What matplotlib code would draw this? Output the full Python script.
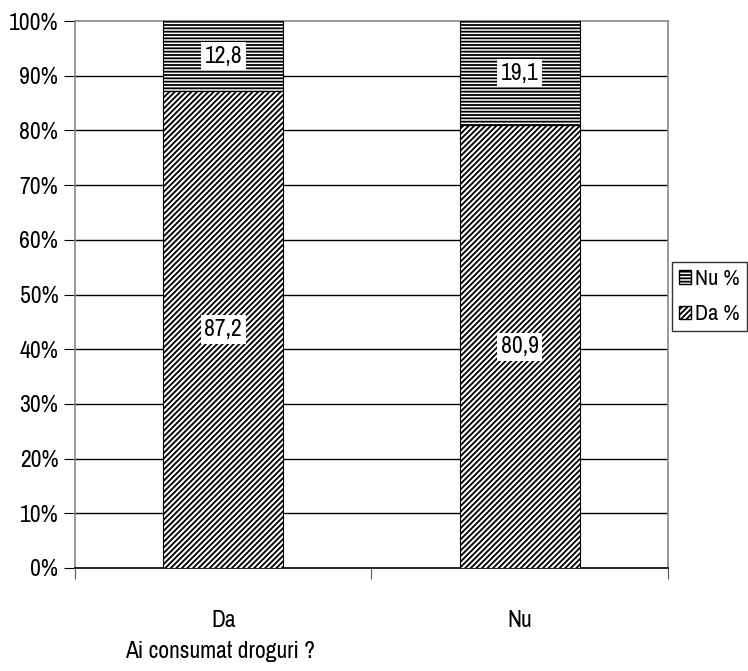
import numpy as np
import matplotlib
matplotlib.use("Agg")
import matplotlib.pyplot as plt
from matplotlib.patches import Patch

plt.rcParams["font.family"] = ["Archivo Narrow", "Liberation Sans", "DejaVu Sans"]
plt.rcParams["hatch.linewidth"] = 1.3

categories = ["Da", "Nu"]
da_pct = [87.2, 80.9]
nu_pct = [12.8, 19.1]
da_labels = ["87,2", "80,9"]
nu_labels = ["12,8", "19,1"]
x_title = "Ai consumat droguri ?"

FS = 17

fig = plt.figure(figsize=(7.48, 6.71), dpi=100)
ax = fig.add_axes([75 / 748, 1 - 568 / 671, 593 / 748, 547 / 671])

x = np.arange(len(categories))
w = 0.404
ax.bar(x, da_pct, w, color="white", edgecolor="black", hatch="//////",
       linewidth=0.8, zorder=3)
ax.bar(x, nu_pct, w, bottom=da_pct, color="white", edgecolor="black",
       hatch="-----", linewidth=0.8, zorder=3)

bbox = dict(facecolor="white", edgecolor="none", pad=2.5)
for xi, d, n, dl, nl in zip(x, da_pct, nu_pct, da_labels, nu_labels):
    ax.text(xi, d / 2, dl, ha="center", va="center", fontsize=FS,
            bbox=bbox, zorder=5)
    ax.text(xi, d + n / 2, nl, ha="center", va="center", fontsize=FS,
            bbox=bbox, zorder=5)

ax.set_xlim(-0.5, 1.5)
ax.set_ylim(0, 100)
ax.set_yticks(np.arange(0, 101, 10))
ax.set_yticklabels([f"{v}%" for v in range(0, 101, 10)], fontsize=FS)
for v in range(10, 100, 10):
    ax.axhline(v, color="black", linewidth=1, zorder=1)

ax.set_xticks([-0.5, 0.5, 1.5])
ax.set_xticklabels([])
ax.set_xticks(x, minor=True)
ax.set_xticklabels(categories, minor=True, fontsize=FS)
ax.tick_params(axis="x", which="minor", length=0, pad=30)
ax.tick_params(axis="x", which="major", length=8, color="#555555")
ax.tick_params(axis="y", length=8, color="black", pad=4)
fig.text(220 / 748, 1 - 652 / 671, x_title, ha="center", va="center", fontsize=FS)

for s in ["left", "right", "top"]:
    ax.spines[s].set_color("#888888")
    ax.spines[s].set_linewidth(1.2)
ax.spines["bottom"].set_color("black")
ax.spines["bottom"].set_linewidth(1.2)

handles = [Patch(facecolor="white", edgecolor="black", hatch="-----", label="Nu %"),
           Patch(facecolor="white", edgecolor="black", hatch="//////", label="Da %")]
leg = fig.legend(handles=handles, loc="upper left",
                 bbox_to_anchor=(672 / 748, 1 - 262 / 671), fontsize=16,
                 frameon=True, fancybox=False, edgecolor="black",
                 handlelength=0.55, handleheight=0.55, handletextpad=0.2,
                 borderpad=0.3, labelspacing=0.7, borderaxespad=0)
leg.get_frame().set_linewidth(1)

fig.savefig("out.png", dpi=100)
